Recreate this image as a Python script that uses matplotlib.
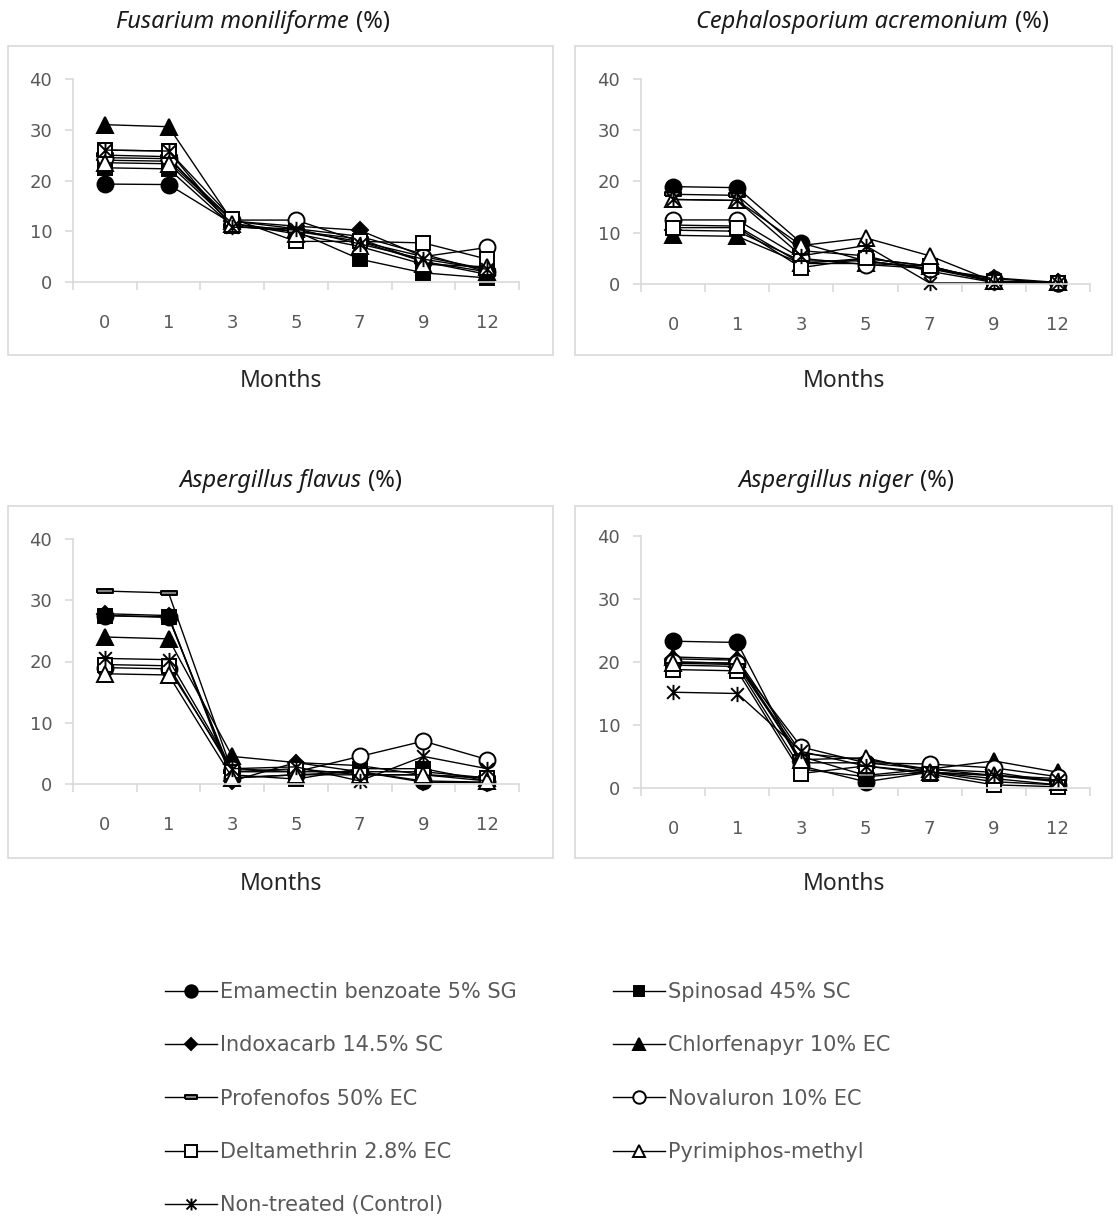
import numpy as np
import matplotlib
matplotlib.use("Agg")
import matplotlib.pyplot as plt
from matplotlib.path import Path
from matplotlib.patches import Rectangle

# months after storage
months = ["0", "1", "3", "5", "7", "9", "12"]

treatments = ["Emamectin benzoate 5% SG", "Spinosad 45% SC", "Indoxacarb 14.5% SC",
              "Chlorfenapyr 10% EC", "Profenofos 50% EC", "Novaluron 10% EC",
              "Deltamethrin 2.8% EC", "Pyrimiphos-methyl", "Non-treated (Control)"]

# Fusarium moniliforme (%)
fus = [[19.3, 19.2, 11.5, 10.0, 8.0, 4.0, 2.0],
       [22.5, 22.3, 11.0, 10.0, 4.5, 1.8, 0.8],
       [24.0, 23.8, 12.0, 11.0, 10.2, 5.0, 2.5],
       [31.0, 30.6, 12.0, 10.5, 9.0, 5.5, 2.0],
       [25.0, 24.7, 11.0, 10.0, 8.5, 4.0, 1.5],
       [24.5, 24.3, 12.2, 12.2, 8.0, 5.0, 6.8],
       [26.0, 25.8, 12.5, 8.0, 8.0, 7.7, 4.5],
       [23.5, 23.3, 11.5, 9.5, 7.0, 3.5, 3.0],
       [26.0, 25.8, 10.8, 10.5, 7.5, 4.5, 2.5]]

# Cephalosporium acremonium (%)
ceph = [[19.0, 18.8, 8.0, 4.5, 3.0, 1.0, 0.2],
        [11.5, 11.3, 4.0, 5.0, 3.5, 0.5, 0.2],
        [10.5, 10.3, 4.5, 4.5, 3.0, 1.2, 0.3],
        [9.5, 9.3, 4.0, 4.0, 3.5, 0.5, 0.3],
        [17.5, 17.3, 6.5, 5.5, 2.5, 0.3, 0.1],
        [12.5, 12.5, 5.0, 3.8, 3.0, 0.5, 0.2],
        [11.0, 11.0, 3.2, 5.0, 3.5, 0.3, 0.2],
        [16.5, 16.3, 7.5, 9.0, 5.5, 0.5, 0.3],
        [16.5, 16.3, 5.5, 7.5, 0.2, 0.2, 0.1]]

# Aspergillus flavus (%)
flav = [[27.5, 27.3, 1.0, 1.5, 2.0, 0.5, 0.3],
        [27.5, 27.2, 1.5, 0.8, 2.5, 2.5, 0.5],
        [27.8, 27.5, 0.5, 3.5, 2.0, 0.3, 0.2],
        [24.0, 23.7, 4.5, 3.5, 3.0, 1.5, 1.0],
        [31.5, 31.2, 2.0, 2.0, 2.0, 2.0, 1.0],
        [19.0, 18.8, 2.5, 2.0, 4.5, 7.0, 4.0],
        [19.5, 19.3, 2.0, 2.5, 1.5, 1.5, 1.0],
        [18.0, 17.8, 1.0, 1.5, 1.5, 1.5, 0.5],
        [20.5, 20.3, 2.5, 2.8, 0.5, 4.5, 2.5]]

# Aspergillus niger (%)
nig = [[23.3, 23.1, 3.5, 1.0, 2.5, 1.5, 0.5],
       [19.5, 19.3, 3.0, 1.8, 2.5, 1.0, 0.5],
       [20.5, 20.3, 4.0, 4.0, 3.0, 2.0, 1.5],
       [20.8, 20.5, 5.5, 4.5, 3.0, 4.3, 2.5],
       [20.0, 19.8, 5.0, 2.0, 3.0, 2.5, 1.0],
       [20.0, 19.8, 6.5, 4.0, 3.8, 3.2, 1.8],
       [18.8, 18.6, 2.3, 3.5, 2.2, 0.5, 0.2],
       [19.8, 19.6, 4.5, 4.8, 2.5, 2.0, 1.0],
       [15.2, 15.0, 5.8, 3.5, 2.5, 2.0, 1.2]]

W, H = 1118, 1218
fig = plt.figure(figsize=(W / 100, H / 100), dpi=100)

def px(x0, y0, x1, y1):
    # pixel box (top-left origin) -> figure fraction [l, b, w, h]
    return [x0 / W, 1 - y1 / H, (x1 - x0) / W, (y1 - y0) / H]

dash = Path([(-1, -0.28), (1, -0.28), (1, 0.28), (-1, 0.28), (-1, -0.28)])
star = Path([(-1, -1), (1, 1), (-1, 1), (1, -1), (0, -1.2), (0, 1.2)],
            [Path.MOVETO, Path.LINETO, Path.MOVETO, Path.LINETO, Path.MOVETO, Path.LINETO])

styles = [dict(marker="o", mfc="black", ms=11.5),
          dict(marker="s", mfc="black", ms=10),
          dict(marker="D", mfc="black", ms=8),
          dict(marker="^", mfc="black", ms=11.5),
          dict(marker=dash, mfc="#7f7f7f", ms=11),
          dict(marker="o", mfc="white", ms=11.5),
          dict(marker="s", mfc="white", ms=10.5),
          dict(marker="^", mfc="white", ms=11.5),
          dict(marker=star, mfc="none", ms=11)]

panels = [
    (fus, "Fusarium moniliforme", (73, 79, 519, 282), (8, 46, 553, 355), 356, 22),
    (ceph, "Cephalosporium acremonium", (641, 79, 1090, 284), (575, 46, 1112, 355), 1015, 22),
    (flav, "Aspergillus flavus", (73, 539, 519, 784), (8, 506, 553, 858), 368, 481),
    (nig, "Aspergillus niger", (641, 536, 1090, 788), (575, 506, 1112, 858), 920, 481),
]

grey = "#d9d9d9"
txt = "#595959"
handles = []
for data, name, ab, box, tx, ty in panels:
    fig.patches.append(Rectangle((box[0] / W, 1 - box[3] / H), (box[2] - box[0]) / W,
                                 (box[3] - box[1]) / H, transform=fig.transFigure,
                                 fill=False, edgecolor=grey, lw=1.2, zorder=0))
    ax = fig.add_axes(px(*ab))
    x = np.arange(len(months))
    handles = []
    for vals, st in zip(data, styles):
        h, = ax.plot(x, vals, color="black", lw=1, mec="black", mew=1.4,
                     clip_on=False, **st)
        handles.append(h)
    ax.set_xlim(-0.5, len(months) - 0.5)
    ax.set_ylim(0, 40)
    ax.set_yticks([0, 10, 20, 30, 40])
    ax.set_xticks(np.arange(-0.5, len(months)), [""] * (len(months) + 1))
    ax.set_xticks(x, months, minor=True)
    for s in ["top", "right"]:
        ax.spines[s].set_visible(False)
    for s in ["left", "bottom"]:
        ax.spines[s].set_color(grey)
        ax.spines[s].set_linewidth(1.2)
    ax.tick_params(axis="both", which="major", direction="out", length=6, width=1.2,
                   color=grey, labelcolor=txt, labelsize=13)
    ax.tick_params(axis="y", pad=9)
    ax.tick_params(axis="x", which="minor", length=0, pad=23, labelcolor=txt, labelsize=13)
    ax.set_facecolor("none")

    # title: italic species name + (%)
    fig.text((tx - 7) / W, 1 - ty / H, name, style="italic", ha="right", va="center",
             fontsize=17, family="Noto Sans", color="#1a1a1a")
    fig.text(tx / W, 1 - ty / H, "(%)", ha="left", va="center",
             fontsize=17, family="Noto Sans", color="#1a1a1a")
    cx = (box[0] + box[2]) / 2
    fig.text(cx / W, 1 - (381 if box[1] < 300 else 884) / H, "Months",
             ha="center", va="center", fontsize=16.5, family="Noto Sans", color="#262626")

order = [0, 2, 4, 6, 8, 1, 3, 5, 7]
leg = fig.legend([handles[i] for i in order], [treatments[i] for i in order],
                 ncol=2, loc="upper left", bbox_to_anchor=(165 / W, 1 - 982 / H),
                 frameon=False, handlelength=2.5, handletextpad=0.15,
                 labelspacing=1.6, columnspacing=4.6, borderpad=0, borderaxespad=0,
                 markerscale=0.78, prop={"family": "DejaVu Sans", "size": 15})
for t in leg.get_texts():
    t.set_color(txt)

fig.savefig("out.png", dpi=100)
